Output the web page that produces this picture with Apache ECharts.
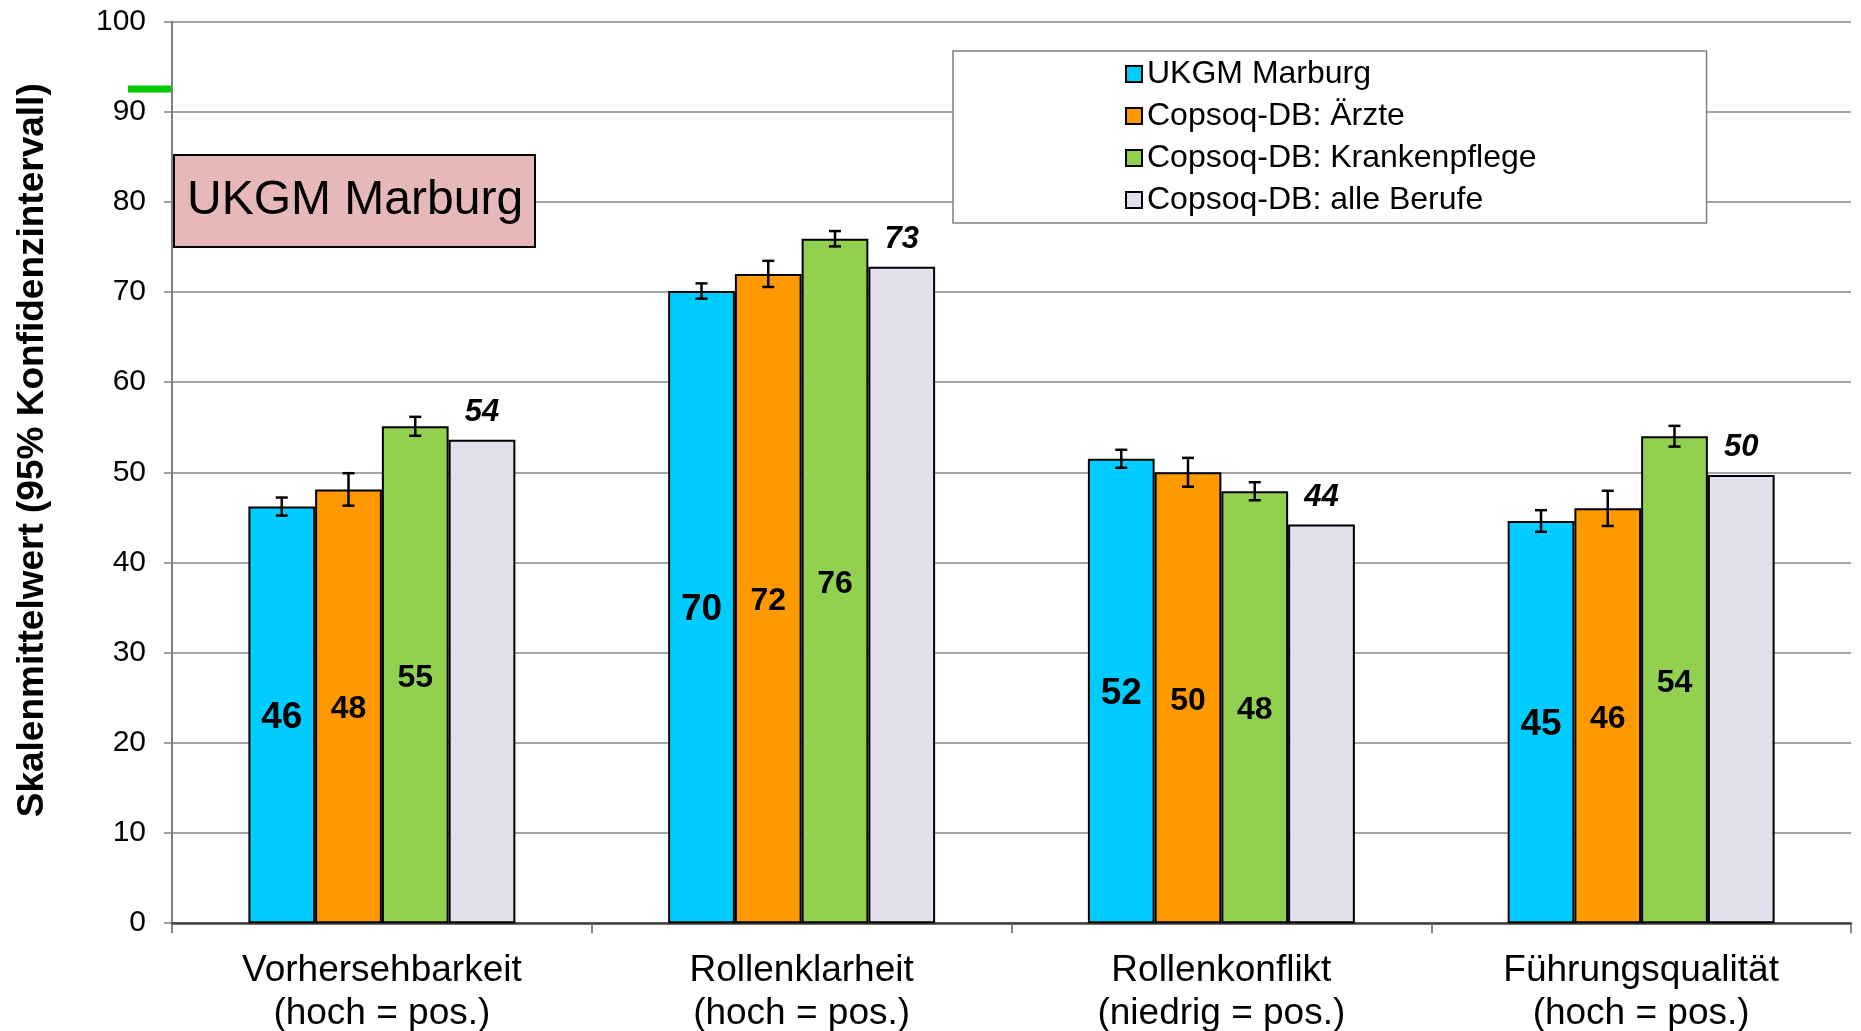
<!DOCTYPE html>
<html><head><meta charset="utf-8">
<script src="https://cdn.jsdelivr.net/npm/echarts@6/dist/echarts.min.js"></script>
<style>html,body{margin:0;padding:0;background:#fff}#c{width:1861px;height:1031px}</style>
</head><body><div id="c"></div>
<script>
// ---- data ----
const categories = ['Vorhersehbarkeit', 'Rollenklarheit', 'Rollenkonflikt', 'Führungsqualität'];
const categoryNotes = ['(hoch = pos.)', '(hoch = pos.)', '(niedrig = pos.)', '(hoch = pos.)'];
const seriesNames = ['UKGM Marburg', 'Copsoq-DB: Ärzte', 'Copsoq-DB: Krankenpflege', 'Copsoq-DB: alle Berufe'];
const ukgm = [46.2, 70.1, 51.5, 44.6];
const ukgmErr = [1.0, 0.85, 1.0, 1.2];
const aerzte = [48.1, 72.0, 50.0, 46.0];
const aerzteErr = [1.8, 1.45, 1.6, 1.95];
const pflege = [55.1, 75.9, 47.9, 54.0];
const pflegeErr = [1.05, 0.85, 1.0, 1.15];
const alle = [53.6, 72.8, 44.2, 49.7];
const yMin = 0, yMax = 100, yInterval = 10;
const titleText = 'UKGM Marburg';
const yAxisTitle = 'Skalenmittelwert (95% Konfidenzintervall)';
const markerValue = 92.5;

// ---- style ----
const FONT = '"Liberation Sans", Arial, sans-serif';
const colors = ['#00CCFF', '#FF9900', '#92D050', '#E4DFEC'];
const GAP = 0.364, N = 4;
const GRID = {left: 172, right: 10, top: 21.4, bottom: 107.8, outerBoundsMode: 'none', containLabel: false};

const chart = echarts.init(document.getElementById('c'), null, {renderer: 'canvas'});

function barSeries(name, vals, idx, label) {
  return {
    type: 'bar', name, data: vals,
    barGap: '0%', barCategoryGap: (GAP * 100) + '%',
    itemStyle: {color: colors[idx], borderColor: '#000', borderWidth: 2},
    label: label,
    emphasis: {disabled: true},
    animation: false
  };
}
function errSeries(name, vals, errs, idx) {
  return {
    type: 'custom', name: name + ' KI', z: 5, silent: true, animation: false,
    data: vals.map((v, i) => [i, v - errs[i], v + errs[i]]),
    encode: {x: 0, y: [1, 2]},
    renderItem(params, api) {
      const ci = api.value(0);
      const lo = api.coord([ci, api.value(1)]);
      const hi = api.coord([ci, api.value(2)]);
      const band = api.size([1, 0])[0];
      const bw = band * (1 - GAP) / N;
      const x = lo[0] + (idx - (N - 1) / 2) * bw;
      const cap = 6;
      const style = {stroke: '#000', lineWidth: 2.5};
      return {type: 'group', children: [
        {type: 'line', shape: {x1: x, y1: lo[1], x2: x, y2: hi[1]}, style},
        {type: 'line', shape: {x1: x - cap, y1: lo[1], x2: x + cap, y2: lo[1]}, style},
        {type: 'line', shape: {x1: x - cap, y1: hi[1], x2: x + cap, y2: hi[1]}, style}
      ]};
    }
  };
}
const inLabel = (size) => ({
  show: true, position: 'inside', offset: [0, 3], color: '#000', fontFamily: FONT,
  fontWeight: 'bold', fontSize: size, formatter: p => Math.round(p.value)
});

const option = {
  backgroundColor: '#fff',
  title: {
    text: titleText, left: 174, top: 155,
    padding: [22, 12, 22, 13],
    backgroundColor: '#E6B9B8', borderColor: '#000', borderWidth: 2,
    textStyle: {fontFamily: FONT, fontSize: 48, fontWeight: 'normal', color: '#000', lineHeight: 48}
  },
  legend: {
    data: seriesNames, orient: 'vertical', left: 953, top: 51,
    padding: [7, 170, 7, 172], itemGap: 10, itemWidth: 16, itemHeight: 16,
    icon: 'rect', backgroundColor: '#fff', borderColor: '#808080', borderWidth: 1.5,
    textStyle: {fontFamily: FONT, fontSize: 32, color: '#000', lineHeight: 32},
    selectedMode: false
  },
  grid: GRID,
  xAxis: {
    type: 'category',
    data: categories.map((c, i) => c + '\n' + categoryNotes[i]),
    axisLine: {lineStyle: {color: '#404040', width: 2.5}},
    axisTick: {show: true, length: 10, lineStyle: {color: '#606060', width: 1.5}},
    axisLabel: {fontFamily: FONT, fontSize: 37, color: '#000', lineHeight: 43, margin: 26, interval: 0},
    splitLine: {show: false}
  },
  yAxis: {
    type: 'value', min: yMin, max: yMax, interval: yInterval,
    name: yAxisTitle, nameLocation: 'middle', nameGap: 121,
    nameTextStyle: {fontFamily: FONT, fontSize: 37, fontWeight: 'bold', color: '#000', padding: [0, 0, 0, 44]},
    axisLine: {show: true, lineStyle: {color: '#808080', width: 2}},
    axisTick: {show: true, length: 8, lineStyle: {color: '#808080', width: 1.5}},
    axisLabel: {fontFamily: FONT, fontSize: 30, color: '#000', margin: 26},
    splitLine: {lineStyle: {color: '#868686', width: 1.5}}
  },
  series: [
    barSeries(seriesNames[0], ukgm, 0, inLabel(37)),
    barSeries(seriesNames[1], aerzte, 1, inLabel(32)),
    barSeries(seriesNames[2], pflege, 2, inLabel(32)),
    barSeries(seriesNames[3], alle, 3, {
      show: true, position: 'top', distance: 12, color: '#000', fontFamily: FONT,
      fontWeight: 'bold', fontStyle: 'italic', fontSize: 31, formatter: p => Math.round(p.value)
    }),
    errSeries(seriesNames[0], ukgm, ukgmErr, 0),
    errSeries(seriesNames[1], aerzte, aerzteErr, 1),
    errSeries(seriesNames[2], pflege, pflegeErr, 2)
  ]
};
chart.setOption(option);

// small green marker left of the value axis
const my = chart.convertToPixel({yAxisIndex: 0}, markerValue);
chart.setOption({graphic: [{
  type: 'rect', silent: true,
  shape: {x: GRID.left - 44, y: my - 3.5, width: 44, height: 7},
  style: {fill: '#00CC00'}
}]});
</script>
</body></html>
